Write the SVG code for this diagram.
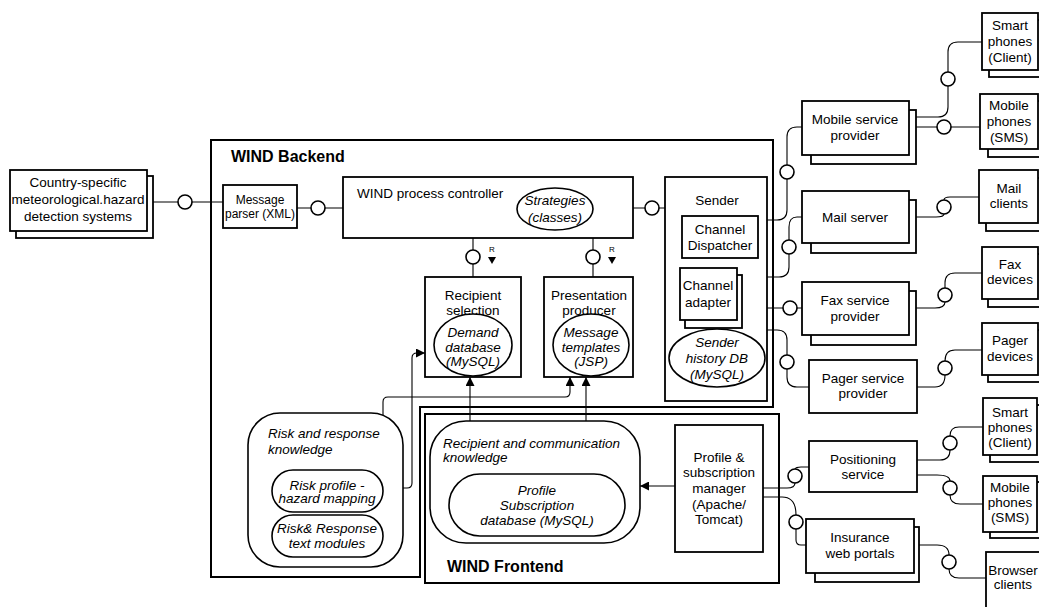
<svg xmlns="http://www.w3.org/2000/svg" width="1039" height="607" viewBox="0 0 1039 607">
<style>
.box{fill:#fff;stroke:#000;stroke-width:1.8}
.cont{fill:none;stroke:#000;stroke-width:2}
.ov{fill:#fff;stroke:#000;stroke-width:1.6}
.ln{fill:none;stroke:#000;stroke-width:1.1}
.if{fill:#fff;stroke:#000;stroke-width:1.6}
text{font-family:"Liberation Sans",Arial,sans-serif;font-size:13.5px;fill:#000}
.c{text-anchor:middle}
.i{font-style:italic}
.b{font-weight:bold;font-size:16px}
.s{font-size:12px}
</style>
<defs>
<marker id="ah" viewBox="0 0 10 10" refX="10" refY="5" markerWidth="9" markerHeight="9" markerUnits="userSpaceOnUse" orient="auto">
<path d="M0,0 L10,5 L0,10 Z" fill="#000"/>
</marker>
</defs>

<g id="containers">
<path id="backend" class="cont" d="M211 140 L773 140 L773 407 L420 407 L420 577 L211 577 Z"/>
<text class="b" x="231" y="162">WIND Backend</text>
<rect id="frontend" class="cont" x="425" y="414" width="354" height="169"/>
<text class="b" x="447" y="572">WIND Frontend</text>
</g>

<g id="connectors">
<!-- left chain -->
<path class="ln" d="M147 202 L178 202 M192 202 L223 202"/>
<circle class="if" cx="185" cy="202" r="7"/>
<path class="ln" d="M297 208 L311 208 M325 208 L343 208"/>
<circle class="if" cx="318" cy="208" r="7"/>
<path class="ln" d="M633 208 L645 208 M659 208 L665 208"/>
<circle class="if" cx="652" cy="208" r="7"/>
<!-- controller down -->
<path class="ln" d="M473 238 L473 250 M473 264 L473 277"/>
<circle class="if" cx="473" cy="257" r="7"/>
<path class="ln" d="M593 238 L593 250 M593 264 L593 277"/>
<circle class="if" cx="593" cy="257" r="7"/>
<text x="492" y="252" class="c" style="font-size:8px">R</text>
<polygon points="488,257 496,257 492,264" fill="#000"/>
<text x="612" y="252" class="c" style="font-size:8px">R</text>
<polygon points="608,257 616,257 612,264" fill="#000"/>
<!-- knowledge arrows -->
<path class="ln" d="M383 488 L407 488 Q412 488 412 483 L412 358 Q412 353 417 353 L425 353" marker-end="url(#ah)"/>
<path class="ln" d="M383 540 L383 402 Q383 397 388 397 L565 397 Q570 397 570 392 L570 377" marker-end="url(#ah)"/>
<path class="ln" d="M470 421 L470 377" marker-end="url(#ah)"/>
<path class="ln" d="M586 421 L586 377" marker-end="url(#ah)"/>
<path class="ln" d="M675 486 L640 486" marker-end="url(#ah)"/>
<!-- sender outputs -->
<path class="ln" d="M802 127 L797 127 Q787 127 787 137 L787 165 M787 179 L787 210 Q787 220 777 220 L767 220"/>
<circle class="if" cx="787" cy="172" r="7"/>
<path class="ln" d="M802 217 L797 217 Q789 217 789 227 L789 240 M789 254 L789 267 Q789 277 779 277 L767 277"/>
<circle class="if" cx="789" cy="247" r="7"/>
<path class="ln" d="M767 308 L783 308 M797 308 L802 308"/>
<circle class="if" cx="790" cy="308" r="7"/>
<path class="ln" d="M767 330 L777 330 Q787 330 787 340 L787 355 M787 369 L787 377 Q787 387 797 387 L809 387"/>
<circle class="if" cx="787" cy="362" r="7"/>
<!-- provider outputs -->
<path class="ln" d="M909 117 L938 117 Q948 117 948 107 L948 86 M948 72 L948 52 Q948 42 958 42 L982 42"/>
<circle class="if" cx="948" cy="79" r="7"/>
<path class="ln" d="M909 127 L937 127 M951 127 L980 127"/>
<circle class="if" cx="944" cy="127" r="7"/>
<path class="ln" d="M909 217 L936 217 Q944 217 944 214 M944 200 Q944 197 950 197 L979 197"/>
<circle class="if" cx="944" cy="207" r="7"/>
<path class="ln" d="M909 308 L935 308 Q945 308 945 302 M945 288 L945 283 Q945 273 955 273 L982 273"/>
<circle class="if" cx="945" cy="295" r="7"/>
<path class="ln" d="M917 387 L935 387 Q945 387 945 375 M945 361 Q945 350 955 350 L982 350"/>
<circle class="if" cx="945" cy="368" r="7"/>
<!-- frontend outputs -->
<path class="ln" d="M763 488 L787 488 Q795 488 795 483 M795 469 Q796 467 801 467 L809 467"/>
<circle class="if" cx="795" cy="476" r="7"/>
<path class="ln" d="M763 497 L782 497 Q796 497 796 515 M796 529 L796 540 Q796 545 801 545 L806 545"/>
<circle class="if" cx="796" cy="522" r="7"/>
<path class="ln" d="M917 460 L940 460 Q950 460 950 450 M950 436 Q950 427 959 427 L983 427"/>
<circle class="if" cx="950" cy="443" r="7"/>
<path class="ln" d="M917 475 L937 475 Q950 475 950 481 M950 495 Q950 504 960 504 L983 504"/>
<circle class="if" cx="950" cy="488" r="7"/>
<path class="ln" d="M919 545 L937 545 Q949 545 949 555 M949 569 Q949 578 959 578 L986 578"/>
<circle class="if" cx="949" cy="562" r="7"/>
</g>

<g id="country">
<rect class="box" x="16" y="176" width="137" height="62"/>
<rect class="box" x="10" y="170" width="137" height="61"/>
<text class="c" x="78" y="187">Country-specific</text>
<text class="c" x="78" y="204">meteorological.hazard</text>
<text class="c" x="78" y="221">detection systems</text>
</g>
<g id="parser">
<rect class="box" x="223" y="185" width="74" height="43"/>
<text class="c s" x="260" y="204">Message</text>
<text class="c s" x="260" y="218">parser (XML)</text>
</g>
<g id="controller">
<rect class="box" x="343" y="177" width="290" height="61"/>
<text x="357" y="198">WIND process controller</text>
<ellipse class="ov" cx="555" cy="209" rx="38" ry="21"/>
<text class="c i" x="555" y="205">Strategies</text>
<text class="c i" x="555" y="222">(classes)</text>
</g>
<g id="recipient">
<rect class="box" x="425" y="277" width="96" height="100"/>
<text class="c" x="473" y="300">Recipient</text>
<text class="c" x="473" y="315">selection</text>
<ellipse class="ov" cx="473" cy="345" rx="39" ry="31"/>
<text class="c i" x="473" y="337">Demand</text>
<text class="c i" x="473" y="352">database</text>
<text class="c i" x="473" y="366">(MySQL)</text>
</g>
<g id="presentation">
<rect class="box" x="544" y="277" width="89" height="100"/>
<text class="c" x="589" y="300">Presentation</text>
<text class="c" x="589" y="315">producer</text>
<ellipse class="ov" cx="591" cy="345" rx="38" ry="31"/>
<text class="c i" x="591" y="337">Message</text>
<text class="c i" x="591" y="352">templates</text>
<text class="c i" x="591" y="366">(JSP)</text>
</g>
<g id="sender">
<rect class="box" x="665" y="177" width="102" height="224"/>
<text class="c" x="717" y="205">Sender</text>
<rect class="box" x="682" y="216" width="76" height="42"/>
<text class="c" x="720" y="234">Channel</text>
<text class="c" x="720" y="250">Dispatcher</text>
<rect class="box" x="685" y="275" width="57" height="53"/>
<rect class="box" x="680" y="268" width="57" height="52"/>
<text class="c" x="708" y="290">Channel</text>
<text class="c" x="708" y="307">adapter</text>
<ellipse class="ov" cx="717" cy="358" rx="48" ry="29"/>
<text class="c i" x="717" y="347">Sender</text>
<text class="c i" x="717" y="363">history DB</text>
<text class="c i" x="717" y="379">(MySQL)</text>
</g>
<g id="risk">
<rect class="ov" x="248" y="413" width="155" height="154" rx="32"/>
<text class="i" x="268" y="438">Risk and response</text>
<text class="i" x="268" y="454">knowledge</text>
<rect class="ov" x="272" y="470" width="111" height="42" rx="21"/>
<text class="c i" x="327" y="490">Risk profile -</text>
<text class="c i" x="327" y="503">hazard mapping</text>
<rect class="ov" x="272" y="515" width="111" height="42" rx="21"/>
<text class="c i" x="327" y="533">Risk&amp; Response</text>
<text class="c i" x="327" y="548">text modules</text>
</g>
<g id="rck">
<rect class="ov" x="430" y="421" width="210" height="122" rx="36"/>
<text class="i" x="443" y="448">Recipient and communication</text>
<text class="i" x="443" y="462">knowledge</text>
<rect class="ov" x="449" y="474" width="176" height="62" rx="31"/>
<text class="c i" x="537" y="495">Profile</text>
<text class="c i" x="537" y="510">Subscription</text>
<text class="c i" x="537" y="525">database (MySQL)</text>
</g>
<g id="manager">
<rect class="box" x="675" y="425" width="88" height="127"/>
<text class="c" x="719" y="462">Profile &amp;</text>
<text class="c" x="719" y="477">subscription</text>
<text class="c" x="719" y="493">manager</text>
<text class="c" x="719" y="509">(Apache/</text>
<text class="c" x="719" y="524">Tomcat)</text>
</g>
<g id="msp">
<rect class="box" x="811" y="110" width="105" height="54"/>
<rect class="box" x="802" y="101" width="107" height="54"/>
<text class="c" x="855" y="124">Mobile service</text>
<text class="c" x="855" y="140">provider</text>
</g>
<g id="mail">
<rect class="box" x="811" y="200" width="105" height="53"/>
<rect class="box" x="802" y="191" width="107" height="52"/>
<text class="c" x="855" y="222">Mail server</text>
</g>
<g id="fax">
<rect class="box" x="811" y="291" width="105" height="54"/>
<rect class="box" x="802" y="282" width="107" height="53"/>
<text class="c" x="855" y="305">Fax service</text>
<text class="c" x="855" y="321">provider</text>
</g>
<g id="pager">
<rect class="box" x="809" y="360" width="108" height="53"/>
<text class="c" x="863" y="383">Pager service</text>
<text class="c" x="863" y="398">provider</text>
</g>
<g id="positioning">
<rect class="box" x="809" y="441" width="108" height="51"/>
<text class="c" x="863" y="464">Positioning</text>
<text class="c" x="863" y="479">service</text>
</g>
<g id="insurance">
<rect class="box" x="815" y="527" width="104" height="55"/>
<rect class="box" x="806" y="519" width="108" height="54"/>
<text class="c" x="860" y="542">Insurance</text>
<text class="c" x="860" y="558">web portals</text>
</g>
<g id="smart1">
<rect class="box" x="989" y="20" width="56" height="57"/>
<rect class="box" x="982" y="13" width="56" height="57"/>
<text class="c" x="1010" y="30">Smart</text>
<text class="c" x="1010" y="46">phones</text>
<text class="c" x="1010" y="62">(Client)</text>
</g>
<g id="mobile1">
<rect class="box" x="988" y="101" width="56" height="56"/>
<rect class="box" x="980" y="94" width="58" height="55"/>
<text class="c" x="1009" y="110">Mobile</text>
<text class="c" x="1009" y="126">phones</text>
<text class="c" x="1009" y="142">(SMS)</text>
</g>
<g id="mailclients">
<rect class="box" x="986" y="178" width="58" height="53"/>
<rect class="box" x="979" y="170" width="59" height="53"/>
<text class="c" x="1009" y="193">Mail</text>
<text class="c" x="1009" y="208">clients</text>
</g>
<g id="faxdev">
<rect class="box" x="988" y="254" width="56" height="53"/>
<rect class="box" x="982" y="247" width="56" height="52"/>
<text class="c" x="1010" y="269">Fax</text>
<text class="c" x="1010" y="284">devices</text>
</g>
<g id="pagerdev">
<rect class="box" x="988" y="330" width="56" height="52"/>
<rect class="box" x="982" y="323" width="56" height="52"/>
<text class="c" x="1010" y="345">Pager</text>
<text class="c" x="1010" y="361">devices</text>
</g>
<g id="smart2">
<rect class="box" x="990" y="405" width="56" height="57"/>
<rect class="box" x="983" y="398" width="54" height="57"/>
<text class="c" x="1010" y="417">Smart</text>
<text class="c" x="1010" y="432">phones</text>
<text class="c" x="1010" y="447">(Client)</text>
</g>
<g id="mobile2">
<rect class="box" x="990" y="482" width="56" height="56"/>
<rect class="box" x="983" y="476" width="54" height="56"/>
<text class="c" x="1010" y="492">Mobile</text>
<text class="c" x="1010" y="507">phones</text>
<text class="c" x="1010" y="522">(SMS)</text>
</g>
<g id="browser">
<rect class="box" x="992" y="560" width="56" height="58"/>
<rect class="box" x="986" y="552" width="56" height="58"/>
<text class="c" x="1013" y="575">Browser</text>
<text class="c" x="1013" y="589">clients</text>
</g>
</svg>
